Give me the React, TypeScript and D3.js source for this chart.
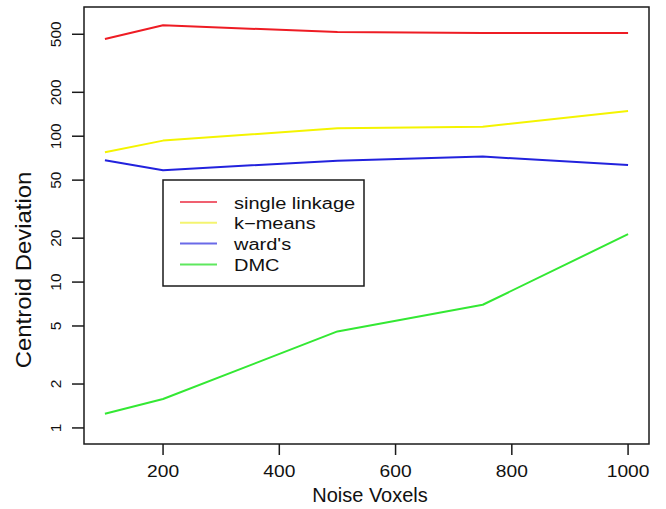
import React, { useEffect, useRef } from "react";
import * as d3 from "d3";

// noise voxel counts along the x axis
const noiseVoxels = [100, 200, 500, 750, 1000];

// centroid deviation per method
const singleLinkage = [464, 576, 518, 510, 510];
const kMeans = [77.7, 93.3, 113.5, 116, 149];
const wards = [68.5, 58.5, 68, 72.5, 63.6];
const dmc = [1.25, 1.58, 4.59, 6.99, 21.3];

const seriesNames = ["single linkage", "k\u2212means", "ward's", "DMC"];
const seriesColors = ["#ee1c24", "#f4f400", "#2222dd", "#33e833"];
const legendColors = ["#f06070", "#f4f470", "#6a6ae8", "#5ee85e"];

const xTicks = [200, 400, 600, 800, 1000];
const yTicks = [1, 2, 5, 10, 20, 50, 100, 200, 500];

const W = 666;
const H = 509;

export default function App() {
  const svgRef = useRef<SVGSVGElement>(null);

  useEffect(() => {
    const svg = d3.select(svgRef.current);
    svg.selectAll("*").remove();

    const left = 84, right = 649, top = 7, bottom = 444;

    const x = d3.scaleLinear().domain([64, 1036]).range([left, right]);
    const y = d3.scaleLog().domain([0.776, 769]).range([bottom, top]);

    svg.append("rect").attr("width", W).attr("height", H).attr("fill", "#fff");

    const series = [singleLinkage, kMeans, wards, dmc];
    const line = d3.line<number>()
      .x((d, i) => x(noiseVoxels[i]))
      .y(d => y(d));

    series.forEach((s, k) => {
      svg.append("path")
        .attr("d", line(s))
        .attr("fill", "none")
        .attr("stroke", seriesColors[k])
        .attr("stroke-width", 2)
        .attr("stroke-linejoin", "round");
    });

    // plot box
    svg.append("rect")
      .attr("x", left).attr("y", top)
      .attr("width", right - left).attr("height", bottom - top)
      .attr("fill", "none")
      .attr("stroke", "#1a1a1a")
      .attr("stroke-width", 1.5);

    // x ticks
    const gx = svg.append("g");
    xTicks.forEach(t => {
      gx.append("line")
        .attr("x1", x(t)).attr("x2", x(t))
        .attr("y1", bottom).attr("y2", bottom + 11)
        .attr("stroke", "#1a1a1a").attr("stroke-width", 1.5);
      gx.append("text")
        .attr("transform", `translate(${x(t)},477) scale(1.2,1)`)
        .attr("text-anchor", "middle")
        .style("font-family", "Liberation Sans, Arial, sans-serif")
        .style("font-size", "16px")
        .attr("fill", "#111")
        .text(t);
    });

    // y ticks
    const gy = svg.append("g");
    yTicks.forEach(t => {
      gy.append("line")
        .attr("x1", left - 12).attr("x2", left)
        .attr("y1", y(t)).attr("y2", y(t))
        .attr("stroke", "#1a1a1a").attr("stroke-width", 1.5);
      gy.append("text")
        .attr("transform", `translate(61,${y(t)}) rotate(-90)`)
        .attr("text-anchor", "middle")
        .style("font-family", "Liberation Sans, Arial, sans-serif")
        .style("font-size", "15.5px")
        .attr("fill", "#111")
        .text(t);
    });

    // axis titles
    svg.append("text")
      .attr("x", 370).attr("y", 502)
      .attr("text-anchor", "middle")
      .style("font-family", "Liberation Sans, Arial, sans-serif")
      .style("font-size", "20px")
      .attr("fill", "#111")
      .text("Noise Voxels");

    svg.append("text")
      .attr("transform", "translate(31,270) rotate(-90) scale(1.04,0.95)")
      .attr("text-anchor", "middle")
      .style("font-family", "Liberation Sans, Arial, sans-serif")
      .style("font-size", "23px")
      .attr("fill", "#111")
      .text("Centroid Deviation");

    // legend
    const lg = svg.append("g");
    lg.append("rect")
      .attr("x", 163).attr("y", 180)
      .attr("width", 201).attr("height", 106)
      .attr("fill", "#fff")
      .attr("stroke", "#1a1a1a")
      .attr("stroke-width", 1.5);
    seriesNames.forEach((name, k) => {
      const ly = 202 + k * 20.8;
      lg.append("line")
        .attr("x1", 180).attr("x2", 217)
        .attr("y1", ly).attr("y2", ly)
        .attr("stroke", legendColors[k])
        .attr("stroke-width", 2);
      lg.append("text")
        .attr("transform", `translate(234,${ly + 6.5}) scale(1.25,1)`)
        .style("font-family", "Liberation Sans, Arial, sans-serif")
        .style("font-size", "16px")
        .attr("fill", "#111")
        .text(name);
    });
  }, []);

  return (
    <svg
      ref={svgRef}
      width={W}
      height={H}
      style={{ position: "absolute", left: 0, top: 0 }}
    />
  );
}
